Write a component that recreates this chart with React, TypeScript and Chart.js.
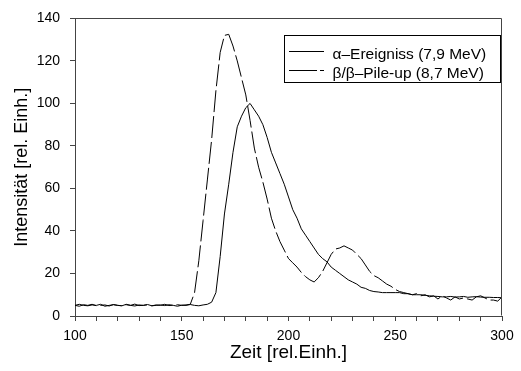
import { useEffect, useRef } from 'react';
import { Chart, registerables } from 'chart.js';

Chart.register(...registerables);

const time = [
  100, 102, 104, 106, 108, 110, 112, 114, 116, 118, 120, 122, 124, 126, 128, 130, 132, 134, 136, 138,
  140, 142, 144, 146, 148, 150, 152, 154, 156, 158, 160, 162, 164, 166, 168, 170, 172, 174, 176, 178,
  180, 182, 184, 186, 188, 190, 192, 194, 196, 198, 200, 202, 204, 206, 208, 210, 212, 214, 216, 218,
  220, 222, 224, 226, 228, 230, 232, 234, 236, 238, 240, 242, 244, 246, 248, 250, 252, 254, 256, 258,
  260, 262, 264, 266, 268, 270, 272, 274, 276, 278, 280, 282, 284, 286, 288, 290, 292, 294, 296, 298,
  300,
];

const alphaIntensity = [
  5, 5.5, 5, 4.8, 5.2, 5, 5.5, 4.6, 5, 5.3, 5, 4.8, 5.5, 5, 4.7, 5.2, 5, 5.4, 4.8, 5,
  5.2, 4.9, 5.3, 5, 4.6, 5.1, 5, 5.4, 5, 4.8, 5.2,
  5.5, 6.5, 11, 28, 48, 62, 77, 89, 94, 98, 100, 97, 94, 90, 84, 77, 72, 67, 62, 56,
  50, 46, 41, 38, 35, 32, 29, 27, 25.5, 23, 21.5, 20, 18.5, 17, 16, 15, 13.5, 13, 12, 11.5,
  11.3, 11, 11, 11, 11, 11, 10.5, 10.5, 10, 10, 10, 9.7, 9.5, 9.3, 9.2, 9, 9, 9.2, 8.9, 9,
  9.2, 8.8, 9, 9.1, 8.9, 8.8, 8.8, 8.7, 8.7, 8.6, 8.5,
];

const pileupIntensity = [
  5, 4.6, 5.3, 5, 5.5, 4.8, 5, 5.2, 4.7, 5.4, 5, 4.8, 5.3, 5, 5.6, 4.9, 5, 5.3, 4.8, 5.2,
  5, 5.5, 4.9, 5.1, 5.3, 5, 5.2, 5.5,
  11, 26, 45, 64, 83, 106, 124, 132, 132.5, 127, 120, 112, 104, 92, 79, 70, 63, 55, 46, 40,
  35, 31, 27, 25, 23, 20.5, 18.5, 17, 16, 18, 21, 25, 29, 31.5, 32, 33, 32, 31, 29, 27,
  24, 21, 19, 18, 16.5, 15, 14, 12.5, 11.5, 11, 10.5, 10, 10.5, 9.5, 10, 9, 9.5, 8, 9.5, 8.5,
  7.5, 9, 8, 8.5, 8, 7.5, 9, 9.5, 8.5, 7.5, 7.5, 7, 9,
];

const legendLabels = ['α–Ereigniss (7,9 MeV)', 'β/β–Pile-up (8,7 MeV)'];
const xTitle = 'Zeit [rel.Einh.]';
const yTitle = 'Intensität [rel. Einh.]';
const xMin = 100;
const xMax = 300;
const yMin = 0;
const yMax = 140;

const FONT = '"Liberation Sans", Arial, Helvetica, sans-serif';
const AXIS_COLOR = '#444';
const PLOT_DASH = [22, 4];

const framePlugin = {
  id: 'frame',
  afterDraw(chart: any) {
    const { ctx, chartArea } = chart;
    const l = Math.round(chartArea.left) + 0.5;
    const r = Math.round(chartArea.right) - 0.5;
    const t = Math.round(chartArea.top) + 0.5;
    const b = Math.round(chartArea.bottom) - 0.5;
    ctx.save();
    ctx.strokeStyle = AXIS_COLOR;
    ctx.lineWidth = 1;
    ctx.beginPath();
    ctx.moveTo(l, t);
    ctx.lineTo(r, t);
    ctx.lineTo(r, b);
    ctx.stroke();
    ctx.restore();
  },
};

const legendPlugin = {
  id: 'boxLegend',
  afterDatasetsDraw(chart: any) {
    const { ctx, chartArea } = chart;
    const w = 216;
    const h = 47;
    const bx = Math.round(chartArea.right - 2 - w) + 0.5;
    const by = Math.round(chartArea.top + 17) + 0.5;
    ctx.save();
    ctx.fillStyle = '#fff';
    ctx.fillRect(bx, by, w, h);
    ctx.strokeStyle = '#000';
    ctx.lineWidth = 1;
    ctx.strokeRect(bx, by, w, h);
    const rows = [
      { dash: [] as number[], lineY: by + 15, textY: by + 23 },
      { dash: [28, 3], lineY: by + 34, textY: by + 42 },
    ];
    ctx.font = `15.5px ${FONT}`;
    ctx.fillStyle = '#000';
    ctx.textBaseline = 'alphabetic';
    ctx.textAlign = 'left';
    rows.forEach((row, i) => {
      ctx.beginPath();
      ctx.setLineDash(row.dash);
      ctx.moveTo(bx + 4.5, Math.round(row.lineY) + 0.5);
      ctx.lineTo(bx + 39.5, Math.round(row.lineY) + 0.5);
      ctx.stroke();
      ctx.setLineDash([]);
      ctx.fillText(legendLabels[i], bx + 48, row.textY);
    });
    ctx.restore();
  },
};

export default function App() {
  const ref = useRef<HTMLCanvasElement>(null);
  useEffect(() => {
    document.body.style.margin = '0';
    const canvas = ref.current;
    if (!canvas) return;
    const chart = new Chart(canvas, {
      type: 'line',
      data: {
        datasets: [
          {
            label: legendLabels[0],
            data: time.map((t, i) => ({ x: t, y: alphaIntensity[i] })),
            borderColor: '#000',
            borderWidth: 1,
            pointRadius: 0,
            tension: 0,
            fill: false,
          },
          {
            label: legendLabels[1],
            data: time.map((t, i) => ({ x: t, y: pileupIntensity[i] })),
            borderColor: '#000',
            borderWidth: 1,
            borderDash: PLOT_DASH,
            pointRadius: 0,
            tension: 0,
            fill: false,
          },
        ],
      },
      options: {
        responsive: false,
        animation: false,
        layout: { padding: { top: 16, right: 19, left: 0, bottom: 0 } },
        plugins: { legend: { display: false }, tooltip: { enabled: false } },
        scales: {
          x: {
            type: 'linear',
            min: xMin,
            max: xMax,
            afterFit: (s: any) => {
              s.height = 55;
            },
            ticks: {
              stepSize: 10,
              autoSkip: false,
              maxRotation: 0,
              padding: 7,
              color: '#000',
              font: { family: FONT, size: 14 },
              callback: (v: any) => (Number(v) % 50 === 0 ? String(v) : ''),
            },
            grid: { drawOnChartArea: false, drawTicks: true, tickLength: 5, color: AXIS_COLOR },
            border: { display: true, color: AXIS_COLOR },
            title: {
              display: true,
              text: xTitle,
              color: '#000',
              font: { family: FONT, size: 19 },
              padding: { top: 0, bottom: 7 },
            },
          },
          y: {
            type: 'linear',
            min: yMin,
            max: yMax,
            afterFit: (s: any) => {
              s.width = 75;
            },
            ticks: {
              stepSize: 20,
              padding: 10,
              color: '#000',
              font: { family: FONT, size: 14 },
            },
            grid: { drawOnChartArea: false, drawTicks: true, tickLength: 5, color: AXIS_COLOR },
            border: { display: true, color: AXIS_COLOR },
            title: {
              display: true,
              text: yTitle,
              color: '#000',
              font: { family: FONT, size: 18 },
              padding: { top: 11, bottom: 0 },
            },
          },
        },
      } as any,
      plugins: [framePlugin, legendPlugin],
    });
    return () => chart.destroy();
  }, []);
  return <canvas ref={ref} width={521} height={371} style={{ display: 'block' }} />;
}
